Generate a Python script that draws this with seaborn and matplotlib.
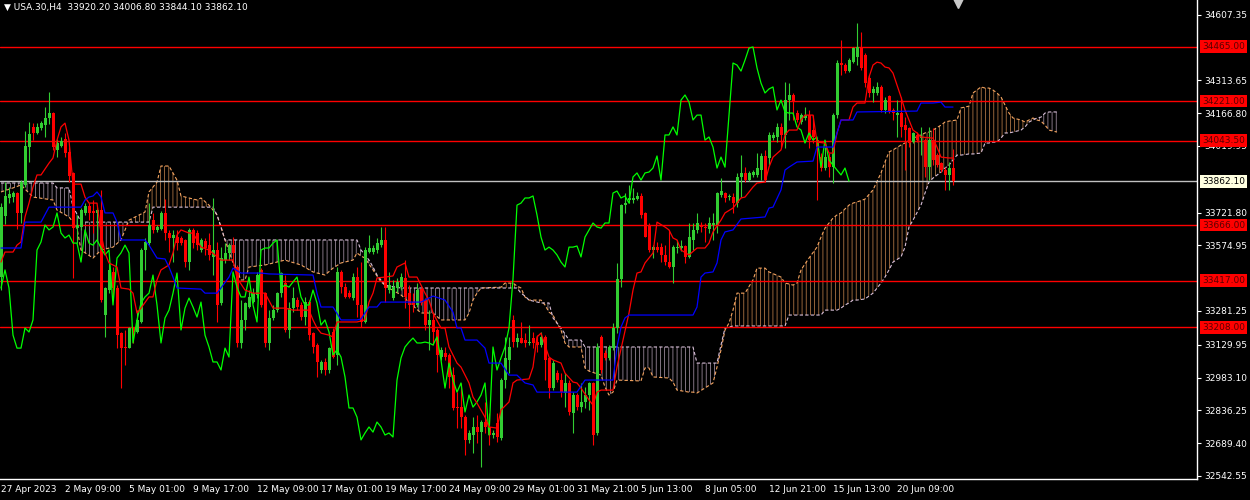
import matplotlib
matplotlib.use("Agg")
import matplotlib.pyplot as plt
import numpy as np
import seaborn as sns

# USA.30, H4 - candles, one row of 10 bars per line
opens = [
    33433, 33706, 33787, 33791, 33809, 33720, 33845, 34015, 34105, 34078,
    34100, 34113, 34145, 34167, 34002, 34020, 34051, 33993, 33899, 33652,
    33657, 33720, 33751, 33729, 33720, 33733, 33263, 33375, 33456, 33384,
    33182, 33120, 33115, 33205, 33187, 33232, 33554, 33585, 33688, 33644,
    33648, 33720, 33630, 33608, 33612, 33608, 33599, 33500, 33644, 33630,
    33554, 33594, 33576, 33523, 33554, 33317, 33509, 33541, 33576, 33478,
    33138, 33241, 33299, 33321, 33353, 33465, 33361, 33138, 33250, 33285,
    33361, 33406, 33196, 33294, 33330, 33308, 33254, 33321, 33182, 33129,
    33017, 33053, 33017, 33187, 33084, 33456, 33388, 33361, 33339, 33433,
    33308, 33232, 33545, 33545, 33554, 33576, 33599, 33375, 33339, 33384,
    33388, 33429, 33361, 33321, 33308, 33379, 33330, 33218, 33241, 33196,
    33075, 33093, 33084, 32994, 32851, 32851, 32806, 32704, 32726, 32762,
    32739, 32784, 32762, 32726, 32780, 32712, 32972, 33062, 33241, 33142,
    33160, 33151, 33138, 33160, 33142, 33129, 33165, 33071, 32936, 33003,
    32972, 32914, 32959, 32824, 32905, 32851, 32874, 32905, 32959, 32735,
    33165, 33093, 33071, 33115, 33205, 33424, 33755, 33778, 33778, 33782,
    33796, 33720, 33666, 33554, 33567, 33567, 33532, 33500, 33478, 33563,
    33563, 33572, 33523, 33599, 33644, 33666, 33657, 33648, 33666, 33666,
    33800, 33809, 33791, 33791, 33764, 33881, 33899, 33867, 33890, 33890,
    33912, 33975, 33966, 34055, 34060, 34105, 34069, 34225, 34248, 34167,
    34127, 34145, 34158, 34091, 34046, 33970, 33921, 33970, 33925, 34158,
    34391, 34382, 34355, 34395, 34418, 34463, 34427, 34324, 34257, 34257,
    34284, 34181, 34243, 34181, 34158, 34167, 34113, 34100, 34037, 34069,
    34055, 34046, 33925, 34046, 33979, 33943, 33912, 33890, 33920.2,
]
highs = [
    33764, 33858, 33836, 33818, 33814, 33867, 34087, 34127, 34122, 34122,
    34131, 34194, 34261, 34172, 34051, 34060, 34078, 34015, 33903, 33711,
    33742, 33764, 33764, 33778, 33746, 33823, 33388, 33496, 33478, 33397,
    33187, 33196, 33209, 33209, 33285, 33563, 33608, 33764, 33720, 33666,
    33729, 33782, 33644, 33644, 33644, 33617, 33603, 33652, 33652, 33644,
    33608, 33608, 33630, 33787, 33590, 33567, 33585, 33585, 33612, 33487,
    33330, 33321, 33375, 33384, 33456, 33473, 33366, 33285, 33308, 33366,
    33456, 33442, 33321, 33388, 33344, 33321, 33344, 33330, 33187, 33138,
    33062, 33071, 33120, 33205, 33478, 33465, 33406, 33375, 33451, 33478,
    33500, 33567, 33621, 33576, 33608, 33657, 33657, 33456, 33420, 33429,
    33451, 33509, 33397, 33361, 33406, 33384, 33339, 33285, 33272, 33205,
    33120, 33120, 33093, 33030, 32918, 32959, 32815, 32748, 32806, 32815,
    32793, 32874, 32824, 32748, 32824, 32981, 33165, 33165, 33263, 33182,
    33232, 33182, 33218, 33187, 33173, 33187, 33173, 33075, 33062, 33017,
    33003, 33003, 32972, 32918, 32914, 32959, 32941, 32963, 32963, 33138,
    33173, 33107, 33129, 33227, 33496, 33760, 33809, 33845, 33832, 33814,
    33809, 33724, 33675, 33576, 33590, 33585, 33576, 33644, 33576, 33599,
    33599, 33576, 33675, 33675, 33720, 33679, 33675, 33702, 33720, 33814,
    33876, 33814, 33805, 33809, 33899, 33979, 33925, 33908, 33912, 33988,
    33988, 34002, 34082, 34082, 34122, 34122, 34306, 34301, 34257, 34181,
    34167, 34194, 34181, 34158, 34055, 33988, 34015, 33988, 34167, 34404,
    34494, 34391, 34413, 34463, 34570, 34530, 34436, 34337, 34288, 34306,
    34293, 34239, 34248, 34190, 34225, 34239, 34149, 34105, 34082, 34082,
    34105, 34055, 34105, 34100, 33988, 33948, 33925, 33948, 34006.8,
]
lows = [
    33375, 33670, 33764, 33769, 33648, 33675, 33836, 33948, 34046, 34073,
    34091, 34060, 34118, 34002, 33970, 34015, 33970, 33858, 33429, 33585,
    33644, 33711, 33688, 33630, 33599, 33321, 33165, 33361, 33344, 33115,
    32936, 33039, 33115, 33138, 33182, 33227, 33465, 33576, 33630, 33635,
    33644, 33599, 33545, 33500, 33554, 33576, 33478, 33465, 33563, 33554,
    33545, 33532, 33509, 33442, 33232, 33308, 33496, 33509, 33509, 33120,
    33115, 33196, 33294, 33317, 33339, 33299, 33120, 33107, 33241, 33276,
    33344, 33187, 33160, 33276, 33285, 33241, 33218, 33151, 33093, 32986,
    33003, 32994, 33003, 33071, 33039, 33361, 33339, 33339, 33330, 33254,
    33209, 33227, 33541, 33536, 33541, 33567, 33321, 33361, 33330, 33366,
    33375, 33294, 33205, 33276, 33299, 33308, 33196, 33107, 33129, 33008,
    33062, 33062, 32936, 32838, 32757, 32757, 32636, 32690, 32645, 32690,
    32583, 32735, 32681, 32712, 32695, 32704, 32936, 33003, 33120, 33120,
    33138, 33120, 33129, 33115, 33098, 33120, 32972, 32892, 32927, 32963,
    32896, 32851, 32815, 32735, 32838, 32829, 32847, 32838, 32681, 32726,
    33003, 33062, 33062, 33107, 33182, 33388, 33720, 33764, 33764, 33778,
    33697, 33612, 33545, 33518, 33545, 33500, 33487, 33473, 33406, 33541,
    33550, 33496, 33518, 33554, 33630, 33635, 33590, 33630, 33599, 33630,
    33791, 33769, 33778, 33720, 33746, 33791, 33858, 33863, 33881, 33881,
    33867, 33858, 33934, 34046, 34037, 34015, 34011, 34136, 34136, 34127,
    34118, 34136, 34011, 34033, 33778, 33908, 33912, 33881, 33854, 34145,
    34337, 34346, 34351, 34391, 34382, 34360, 34284, 34239, 34216, 34248,
    34172, 34167, 34167, 34136, 34060, 34060, 33912, 34015, 34033, 34037,
    33979, 33881, 33867, 33934, 33925, 33903, 33823, 33823, 33844.1,
]
closes = [
    33746, 33796, 33805, 33809, 33720, 33858, 34020, 34073, 34078, 34105,
    34122, 34145, 34167, 34015, 34033, 34042, 33988, 33885, 33652, 33666,
    33733, 33751, 33720, 33720, 33733, 33330, 33384, 33465, 33384, 33173,
    33115, 33115, 33205, 33187, 33241, 33554, 33590, 33666, 33644, 33657,
    33720, 33630, 33608, 33621, 33585, 33585, 33500, 33644, 33585, 33576,
    33599, 33563, 33532, 33554, 33308, 33518, 33541, 33576, 33541, 33138,
    33241, 33317, 33344, 33361, 33442, 33308, 33138, 33250, 33285, 33361,
    33451, 33196, 33294, 33339, 33299, 33254, 33321, 33173, 33120, 33053,
    33053, 33017, 33115, 33075, 33456, 33388, 33344, 33344, 33433, 33308,
    33232, 33554, 33563, 33563, 33585, 33599, 33384, 33397, 33388, 33411,
    33433, 33344, 33308, 33308, 33375, 33317, 33218, 33241, 33187, 33084,
    33107, 33075, 32986, 32847, 32847, 32806, 32704, 32735, 32762, 32739,
    32784, 32762, 32726, 32735, 32717, 32972, 33071, 33120, 33142, 33160,
    33138, 33138, 33142, 33138, 33129, 33165, 33062, 32936, 33048, 32972,
    32918, 32959, 32829, 32905, 32851, 32874, 32905, 32959, 32726, 33120,
    33017, 33071, 33120, 33205, 33424, 33755, 33764, 33787, 33787, 33796,
    33711, 33612, 33554, 33567, 33554, 33532, 33500, 33478, 33567, 33567,
    33572, 33523, 33612, 33644, 33675, 33657, 33652, 33675, 33675, 33809,
    33818, 33787, 33796, 33764, 33881, 33899, 33867, 33899, 33903, 33921,
    33975, 33867, 34069, 34069, 34105, 34069, 34225, 34248, 34216, 34136,
    34158, 34158, 34046, 34060, 34015, 33921, 33970, 33925, 34158, 34391,
    34382, 34355, 34404, 34458, 34463, 34369, 34301, 34257, 34275, 34284,
    34181, 34225, 34172, 34167, 34167, 34105, 34091, 34033, 34078, 34046,
    34060, 33925, 34046, 33957, 33934, 33912, 33890, 33921, 33862.1,
]

# Ichimoku lines (bar index, price)
tenkan_bars = [
    0, 1, 3, 4, 5, 6, 7, 8, 9, 10,
    12, 13, 14, 15, 16, 17, 18, 20, 21, 22,
    24, 25, 26, 27, 29, 30, 32, 33, 34, 35,
    37, 38, 39, 40, 42, 43, 44, 45, 47, 48,
    49, 50, 52, 55, 58, 59, 61, 63, 66, 68,
    71, 73, 77, 78, 79, 80, 82, 83, 84, 89,
    91, 92, 93, 94, 96, 98, 99, 101, 102, 104,
    105, 106, 107, 108, 110, 111, 112, 114, 115, 117,
    118, 119, 121, 122, 124, 125, 127, 128, 129, 132,
    133, 134, 135, 137, 138, 140, 141, 143, 144, 145,
    147, 148, 149, 150, 153, 154, 157, 158, 159, 160,
    161, 163, 164, 166, 167, 168, 169, 170, 172, 174,
    176, 177, 178, 180, 181, 183, 185, 186, 188, 189,
    191, 192, 193, 195, 196, 197, 199, 200, 201, 203,
    204, 206, 207, 208, 209, 210, 212, 213, 214, 216,
    217, 218, 219, 220, 221, 222, 223, 224, 225, 226,
    227, 228, 229, 230, 233, 234, 235, 237, 238,
]
tenkan = [
    33500, 33545, 33545, 33576, 33590, 33702, 33764, 33836, 33890, 33890,
    33943, 33966, 34046, 34105, 34122, 34046, 33849, 33849, 33791, 33764,
    33764, 33630, 33541, 33496, 33478, 33384, 33379, 33361, 33272, 33294,
    33344, 33344, 33420, 33465, 33487, 33541, 33621, 33644, 33630, 33630,
    33599, 33567, 33554, 33509, 33509, 33429, 33375, 33361, 33361, 33294,
    33294, 33285, 33285, 33241, 33205, 33182, 33173, 33165, 33232, 33232,
    33241, 33321, 33361, 33429, 33433, 33438, 33478, 33496, 33433, 33433,
    33397, 33361, 33330, 33272, 33205, 33205, 33120, 33048, 33030, 32959,
    32896, 32869, 32806, 32762, 32757, 32838, 32874, 32959, 32972, 32977,
    33030, 33165, 33182, 33075, 33062, 33048, 33003, 32963, 32959, 32936,
    32883, 32860, 32918, 32927, 32927, 33030, 33272, 33375, 33451, 33456,
    33496, 33541, 33679, 33657, 33644, 33608, 33599, 33554, 33532, 33563,
    33563, 33585, 33635, 33688, 33720, 33742, 33787, 33791, 33836, 33854,
    33858, 33925, 33970, 34002, 34069, 34091, 34091, 34136, 34158, 34158,
    34037, 34033, 33988, 33988, 34078, 34136, 34136, 34194, 34212, 34212,
    34328, 34382, 34395, 34391, 34373, 34369, 34346, 34293, 34239, 34181,
    34136, 34091, 34078, 34060, 34055, 34015, 33970, 33966, 33966,
]
kijun_bars = [
    0, 5, 6, 10, 12, 20, 21, 22, 23, 24,
    25, 26, 28, 29, 30, 36, 37, 39, 41, 42,
    43, 44, 50, 51, 54, 55, 57, 58, 60, 65,
    67, 78, 79, 80, 83, 85, 89, 90, 91, 92,
    94, 95, 105, 106, 108, 111, 113, 114, 115, 116,
    119, 121, 122, 125, 127, 129, 131, 133, 134, 144,
    146, 153, 154, 155, 156, 157, 173, 174, 175, 176,
    178, 179, 180, 181, 183, 185, 191, 192, 193, 195,
    196, 197, 199, 203, 204, 208, 209, 210, 213, 214,
    229, 230, 233, 235, 236, 238,
]
kijun = [
    33563, 33563, 33679, 33679, 33746, 33746, 33778, 33791, 33796, 33814,
    33791, 33720, 33720, 33679, 33599, 33599, 33576, 33518, 33514, 33478,
    33433, 33384, 33379, 33361, 33361, 33384, 33433, 33473, 33451, 33451,
    33447, 33442, 33361, 33299, 33299, 33241, 33241, 33245, 33272, 33299,
    33299, 33321, 33321, 33330, 33348, 33330, 33276, 33205, 33205, 33151,
    33151, 33115, 33048, 33048, 32994, 32994, 32959, 32950, 32918, 32918,
    32972, 32972, 33120, 33209, 33250, 33263, 33263, 33299, 33433, 33451,
    33456, 33496, 33599, 33635, 33644, 33693, 33702, 33742, 33746, 33823,
    33912, 33925, 33948, 33952, 34015, 34015, 34078, 34136, 34136, 34172,
    34176, 34212, 34212, 34216, 34194, 34194,
]
cloud_bars = [
    0, 3, 5, 8, 13, 14, 17, 18, 19, 20,
    23, 25, 28, 30, 32, 36, 37, 38, 39, 40,
    42, 44, 45, 49, 50, 52, 53, 54, 55, 56,
    58, 60, 61, 62, 66, 69, 71, 75, 78, 81,
    83, 85, 88, 89, 90, 91, 92, 93, 94, 95,
    96, 97, 100, 105, 108, 110, 116, 117, 118, 119,
    120, 125, 126, 128, 129, 130, 131, 132, 135, 136,
    137, 138, 139, 140, 141, 142, 145, 146, 147, 150,
    151, 152, 153, 154, 160, 161, 162, 163, 167, 168,
    169, 172, 173, 174, 178, 179, 180, 181, 182, 183,
    184, 186, 188, 189, 191, 192, 195, 196, 197, 198,
    199, 200, 202, 204, 205, 206, 208, 209, 210, 211,
    212, 213, 214, 216, 218, 220, 221, 222, 223, 225,
    226, 227, 228, 230, 231, 232, 233, 235, 236, 237,
    239, 240, 242, 243, 245, 246, 247, 248, 249, 250,
    251, 252, 253, 255, 256, 257, 258, 259, 260, 261,
    262, 264,
]
span_a = [
    33814, 33832, 33845, 33791, 33778, 33733, 33702, 33679, 33652, 33554,
    33518, 33554, 33567, 33599, 33688, 33724, 33814, 33836, 33858, 33930,
    33930, 33867, 33796, 33778, 33787, 33755, 33733, 33711, 33657, 33599,
    33496, 33420, 33420, 33478, 33487, 33500, 33509, 33487, 33456, 33442,
    33473, 33496, 33509, 33541, 33527, 33518, 33491, 33465, 33438, 33411,
    33397, 33384, 33353, 33272, 33272, 33241, 33241, 33272, 33330, 33361,
    33384, 33388, 33406, 33406, 33393, 33384, 33344, 33330, 33330, 33308,
    33276, 33263, 33227, 33196, 33138, 33120, 33120, 33026, 33012, 32994,
    32941, 32905, 32918, 32972, 32968, 33026, 33026, 32986, 32981, 32963,
    32927, 32918, 32918, 32914, 32959, 33030, 33107, 33196, 33227, 33285,
    33361, 33361, 33420, 33473, 33473, 33456, 33433, 33406, 33402, 33397,
    33406, 33465, 33518, 33567, 33612, 33652, 33697, 33711, 33720, 33738,
    33755, 33764, 33769, 33782, 33823, 33899, 33948, 33993, 34002, 34024,
    34033, 34046, 34055, 34069, 34078, 34082, 34091, 34113, 34127, 34131,
    34136, 34190, 34198, 34257, 34284, 34279, 34279, 34270, 34257, 34239,
    34203, 34167, 34145, 34136, 34127, 34136, 34145, 34136, 34131, 34113,
    34091, 34082,
]
span_b = [
    33854, 33854, 33854, 33854, 33854, 33832, 33832, 33746, 33715, 33679,
    33679, 33679, 33679, 33679, 33679, 33679, 33679, 33746, 33746, 33746,
    33746, 33746, 33746, 33746, 33746, 33746, 33746, 33711, 33657, 33599,
    33599, 33599, 33599, 33599, 33599, 33599, 33599, 33599, 33599, 33599,
    33599, 33599, 33599, 33599, 33554, 33532, 33509, 33478, 33442, 33420,
    33397, 33393, 33384, 33384, 33384, 33384, 33384, 33384, 33384, 33384,
    33384, 33384, 33384, 33384, 33384, 33361, 33348, 33330, 33317, 33317,
    33317, 33250, 33227, 33205, 33178, 33151, 33151, 33120, 33120, 33120,
    33120, 33120, 33120, 33120, 33120, 33120, 33120, 33120, 33120, 33120,
    33120, 33120, 33120, 33048, 33048, 33048, 33129, 33205, 33209, 33214,
    33214, 33214, 33214, 33214, 33214, 33214, 33214, 33214, 33263, 33263,
    33263, 33263, 33263, 33263, 33263, 33285, 33285, 33285, 33294, 33308,
    33317, 33330, 33330, 33335, 33361, 33406, 33433, 33465, 33500, 33523,
    33567, 33657, 33688, 33755, 33809, 33858, 33876, 33903, 33921, 33934,
    33979, 33979, 33984, 33984, 33988, 34033, 34033, 34037, 34037, 34055,
    34078, 34078, 34082, 34091, 34105, 34127, 34136, 34145, 34149, 34167,
    34172, 34172,
]

levels = [34465.00, 34221.00, 34043.50, 33666.00, 33417.00, 33208.00]
price_ticks = [34607.35, 34313.65, 34166.80, 34019.95, 33721.80, 33574.95,
               33281.25, 33129.95, 32983.10, 32836.25, 32689.40, 32542.55]
date_ticks = [0, 16, 32, 48, 64, 80, 96, 112, 128, 144, 160, 176, 192, 208, 224]
date_labels = ["27 Apr 2023", "2 May 09:00", "5 May 01:00", "9 May 17:00",
               "12 May 09:00", "17 May 01:00", "19 May 17:00", "24 May 09:00",
               "29 May 01:00", "31 May 21:00", "5 Jun 13:00", "8 Jun 05:00",
               "12 Jun 21:00", "15 Jun 13:00", "20 Jun 09:00"]

sns.set_style("dark")
plt.rcParams["font.family"] = ["DejaVu Sans"]
plt.rcParams["hatch.linewidth"] = 0.6

o = np.array(opens, dtype=float)
h = np.array(highs, dtype=float)
l = np.array(lows, dtype=float)
c = np.array(closes, dtype=float)
n = len(c)
x = np.arange(n)
col = np.where(c >= o, "#32CD32", "#FF0000")

fig = plt.figure(figsize=(12.5, 5), dpi=100, facecolor="black")
ax = fig.add_axes([0, 0.042, 0.9576, 0.958])
ax.set_facecolor("black")
ax.grid(False)

# kumo
cb = np.array(cloud_bars)
sa = np.array(span_a, dtype=float)
sb = np.array(span_b, dtype=float)
ax.fill_between(cb, sa, sb, where=sa >= sb, interpolate=True, facecolor="none",
                edgecolor="#F4A460", hatch="||||", linewidth=0, alpha=0.7, zorder=1)
ax.fill_between(cb, sa, sb, where=sa < sb, interpolate=True, facecolor="none",
                edgecolor="#D8BFD8", hatch="||||", linewidth=0, alpha=0.7, zorder=1)
sns.lineplot(x=cb, y=sa, color="#F4A460", linewidth=0.8, linestyle=(0, (3, 2)), ax=ax, zorder=1.5)
sns.lineplot(x=cb, y=sb, color="#D8BFD8", linewidth=0.8, linestyle=(0, (3, 2)), ax=ax, zorder=1.5)

for lv in levels:
    ax.axhline(lv, color="#FF0000", linewidth=1.0, zorder=2)
ax.axhline(c[-1], color="#C0C0C0", linewidth=1.0, zorder=2)

# candles
ax.vlines(x, l, h, colors=col, linewidth=0.8, zorder=3)
ax.bar(x, np.maximum(np.abs(c - o), 4.5), bottom=np.minimum(o, c), width=0.75,
       color=col, linewidth=0, zorder=3)

# chikou, tenkan, kijun
sns.lineplot(x=x[:-26], y=c[26:], color="#00FF00", linewidth=0.9, ax=ax, zorder=4)
sns.lineplot(x=tenkan_bars, y=tenkan, color="#FF0000", linewidth=0.9, ax=ax, zorder=4)
sns.lineplot(x=kijun_bars, y=kijun, color="#0000FF", linewidth=0.9, ax=ax, zorder=4)

ax.set_xlim(-0.25, 299)
ax.set_ylim(32529.1, 34673.15)
ax.set_xlabel("")
ax.set_ylabel("")
ax.yaxis.tick_right()
ax.set_yticks(price_ticks)
ax.set_yticklabels([f"{v:.2f}" for v in price_ticks])
ax.set_xticks(date_ticks)
ax.set_xticklabels(date_labels, ha="left")
ax.tick_params(axis="both", colors="white", labelsize=6.5, length=3, width=0.8)
ax.tick_params(axis="x", pad=1.5)
ax.tick_params(axis="y", pad=2)
for s in ["left", "top"]:
    ax.spines[s].set_visible(False)
for s in ["right", "bottom"]:
    ax.spines[s].set_color("white")
    ax.spines[s].set_linewidth(1)

# price labels on the right
ytr = ax.get_yaxis_transform()
for lv in levels:
    ax.text(1.0042, lv, f"{lv:.2f}", transform=ytr, ha="left", va="center",
            fontsize=6.5, color="#5a0000", clip_on=False, zorder=6,
            bbox=dict(boxstyle="square,pad=0.2", fc="#FF0000", ec="none"))
ax.text(1.0042, c[-1], f"{c[-1]:.2f}", transform=ytr, ha="left", va="center",
        fontsize=6.5, color="black", clip_on=False, zorder=6,
        bbox=dict(boxstyle="square,pad=0.2", fc="#FFFFE0", ec="none"))

# header
head = "▼ USA.30,H4  " + " ".join(f"{v:.2f}" for v in (o[-1], h[-1], l[-1], c[-1]))
ax.text(0.003, 0.993, head, transform=ax.transAxes, ha="left", va="top",
        color="white", fontsize=6.5)
ax.plot(n + 0.25, 34673.15 - 12, marker="v", color="#C8C8C8", markersize=7,
        clip_on=False, zorder=6)

fig.savefig("out.png", dpi=100, facecolor="black")
